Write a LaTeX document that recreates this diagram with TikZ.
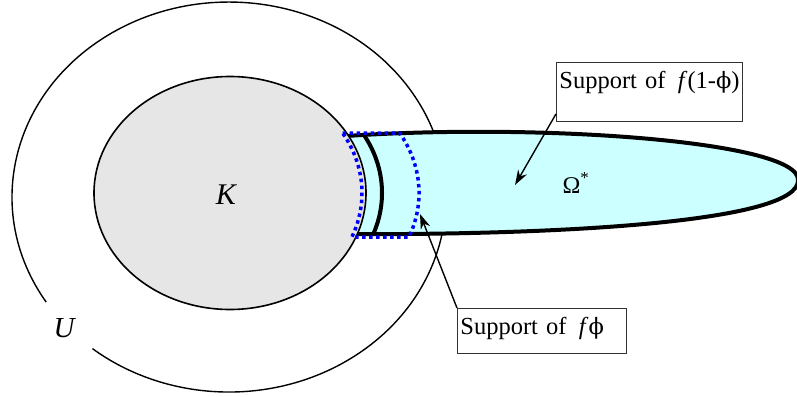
\documentclass[tikz,border=0pt]{standalone}
\usepackage{fontspec}
\setmainfont{Liberation Serif}
\newfontfamily\phifont[Scale=0.92]{DejaVu Serif}
\usetikzlibrary{positioning, arrows.meta}
\definecolor{kGray}{HTML}{E6E6E6}
\definecolor{omCyan}{HTML}{CCFFFF}
\definecolor{phiBlue}{HTML}{0000FF}
\newcommand{\omegaoutline}{(320,138) .. controls (520,121) and (800,140) .. (798,180)
  .. controls (800,222) and (560,236) .. (320,234) -- cycle}
\tikzset{
  labelbox/.style={draw=black!80, line width=0.9pt, anchor=north west, align=left,
    inner xsep=3pt, inner ysep=5pt, text height=21pt, font=\fontsize{24.5}{30}\selectfont},
  pointer/.style={line width=1.4pt, -{Stealth[length=15pt, width=10pt]}},
}

\begin{document}
\begin{tikzpicture}[x=1pt, y=-1pt]
  \useasboundingbox (0,0) rectangle (797,396);
  % the open set U, broken where its label sits
  \draw[line width=1.4pt] (46.2,302.1) arc[start angle=147.4, end angle=489, x radius=217, y radius=195];
  % the strip Omega*
  \filldraw[fill=omCyan, line width=4pt] \omegaoutline;
  \begin{scope}
    \clip \omegaoutline;
    \draw[line width=4pt] (246,193) ellipse[x radius=136, y radius=116.5];
  \end{scope}
  % the compact set K
  \filldraw[fill=kGray, line width=1.6pt] (230,193) ellipse[x radius=136, y radius=116.5];
  % support of f phi
  \draw[phiBlue, line width=3.5pt, dash pattern=on 3.5pt off 3.5pt]
    (342.6,133) -- (399.6,133) arc[start angle=-31, end angle=22.2, x radius=136, y radius=116.5]
    -- (351.9,237) arc[start angle=22.2, end angle=-31, x radius=136, y radius=116.5] -- cycle;

  \node[font=\fontsize{30}{34}\selectfont\itshape] (K) at (226,195) {K};
  \node[font=\fontsize{29}{34}\selectfont\itshape] (U) at (64,328) {U};
  \node[font=\fontsize{24}{28}\selectfont] (om) at (576,183) {Ω\textsuperscript{*}};

  \node[labelbox, text width=180pt, text depth=28pt] (b1) at (556,62) {\mbox{Support of \,\textit{f}(1-{\phifont ϕ})}};
  \node[labelbox, text width=163pt, text depth=14pt] (b2) at (457,308) {\mbox{Support of \,\textit{f}{\phifont ϕ}}};

  \coordinate (tip1) at (515,185);
  \coordinate (tip2) at (420,214);
  \draw[pointer] ([yshift=8pt]b1.south west) -- (tip1);
  \draw[pointer] (b2.north west) -- (tip2);
\end{tikzpicture}
\end{document}
